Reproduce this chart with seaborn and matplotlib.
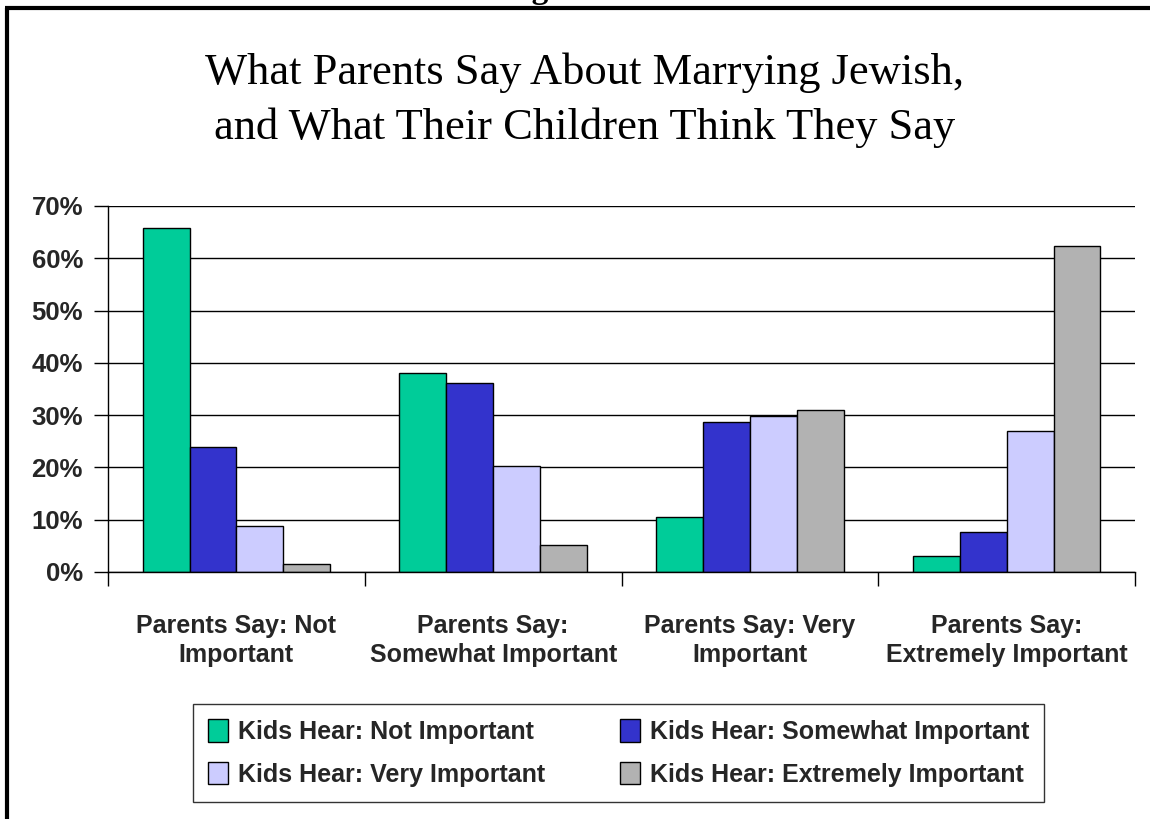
import matplotlib
matplotlib.use("Agg")
import matplotlib.pyplot as plt
from matplotlib.lines import Line2D
from matplotlib.patches import Patch
from matplotlib.ticker import FixedLocator, FuncFormatter
import pandas as pd
import seaborn as sns

# Categories: what parents report saying
parent_groups = [
    "Parents Say: Not\nImportant",
    "Parents Say:\nSomewhat Important",
    "Parents Say: Very\nImportant",
    "Parents Say:\nExtremely Important",
]
# Series: what the children report hearing
kid_series = [
    "Kids Hear: Not Important",
    "Kids Hear: Somewhat Important",
    "Kids Hear: Very Important",
    "Kids Hear: Extremely Important",
]
hear_not = [65.8, 38.0, 10.5, 3.1]
hear_somewhat = [24.0, 36.2, 28.6, 7.6]
hear_very = [8.7, 20.3, 29.8, 27.0]
hear_extremely = [1.5, 5.2, 30.9, 62.3]
y_ticks = [0, 10, 20, 30, 40, 50, 60, 70]

series_colors = ["#00CC99", "#3333CC", "#CCCCFF", "#B2B2B2"]

rows = []
for name, vals in zip(kid_series, [hear_not, hear_somewhat, hear_very, hear_extremely]):
    for grp, v in zip(parent_groups, vals):
        rows.append({"group": grp, "series": name, "value": v})
df = pd.DataFrame(rows)

sns.set_theme(style="white")
plt.rcParams["font.family"] = ["Liberation Sans Narrow", "Liberation Sans", "DejaVu Sans"]

fig = plt.figure(figsize=(11.5, 8.19), dpi=100)
ax = fig.add_axes([0.0939, 0.3016, 0.8931, 0.4469])

sns.barplot(
    data=df, x="group", y="value", hue="series",
    order=parent_groups, hue_order=kid_series,
    palette=series_colors, saturation=1, width=0.73, gap=0,
    edgecolor="black", linewidth=1.0, legend=False, ax=ax,
)

ax.set_xlim(-0.5, len(parent_groups) - 0.5)
ax.set_ylim(0, 70)
ax.set_xlabel("")
ax.set_ylabel("")

# horizontal gridlines
ax.yaxis.set_major_locator(FixedLocator(y_ticks))
ax.yaxis.set_major_formatter(FuncFormatter(lambda v, _: f"{int(v)}%"))
ax.grid(axis="y", color="black", linewidth=1.0)
ax.grid(axis="x", visible=False)
ax.set_axisbelow(True)

for side in ["top", "right"]:
    ax.spines[side].set_visible(False)
for side in ["left", "bottom"]:
    ax.spines[side].set_color("black")
    ax.spines[side].set_linewidth(1.0)

ax.tick_params(axis="y", which="major", length=10, width=1, color="black",
               direction="out", left=True, pad=8, labelsize=18.5)
for lab in ax.get_yticklabels():
    lab.set_fontweight("bold")

# category labels at centres, tick marks at the boundaries
ax.set_xticks(range(len(parent_groups)))
ax.set_xticklabels(parent_groups, fontsize=18, fontweight="bold", linespacing=1.3)
ax.tick_params(axis="x", which="major", length=0, pad=30)
ax.set_xticks([i - 0.5 for i in range(len(parent_groups) + 1)], minor=True)
ax.tick_params(axis="x", which="minor", length=10, width=1, color="black",
               direction="out", bottom=True)

# title
fig.text(0.508, 0.878, "What Parents Say About Marrying Jewish,\nand What Their Children Think They Say",
         ha="center", va="center", fontsize=32, family=["Liberation Serif", "DejaVu Serif"],
         linespacing=1.45, color="black")

# heading above the frame, clipped by the page edge
fig.text(0.478, 1.003, "Figure", ha="center", va="baseline", fontsize=24,
         fontweight="bold", family=["Liberation Serif", "DejaVu Serif"], color="black")

# legend, filled row by row
order = [0, 2, 1, 3]
handles = [Patch(facecolor=series_colors[i], edgecolor="black", linewidth=1.0) for i in order]
labels = [kid_series[i] for i in order]
leg = fig.legend(handles, labels, loc="center", bbox_to_anchor=(0.538, 0.0806),
                 ncol=2, frameon=True, fancybox=False, edgecolor="black",
                 prop={"size": 18, "weight": "bold"},
                 handlelength=0.8, handleheight=1.0, handletextpad=0.4,
                 columnspacing=3.0, labelspacing=0.72, borderpad=0.6, borderaxespad=0)
leg.get_frame().set_linewidth(1.0)

# page frame (top and left edges)
fig.add_artist(Line2D([5 / 1150, 1.0], [1 - 8 / 819, 1 - 8 / 819], color="black",
                      linewidth=3, transform=fig.transFigure, solid_capstyle="butt"))
fig.add_artist(Line2D([7 / 1150, 7 / 1150], [1 - 8 / 819, 0.0], color="black",
                      linewidth=3, transform=fig.transFigure, solid_capstyle="butt"))

fig.savefig("out.png", dpi=100)
